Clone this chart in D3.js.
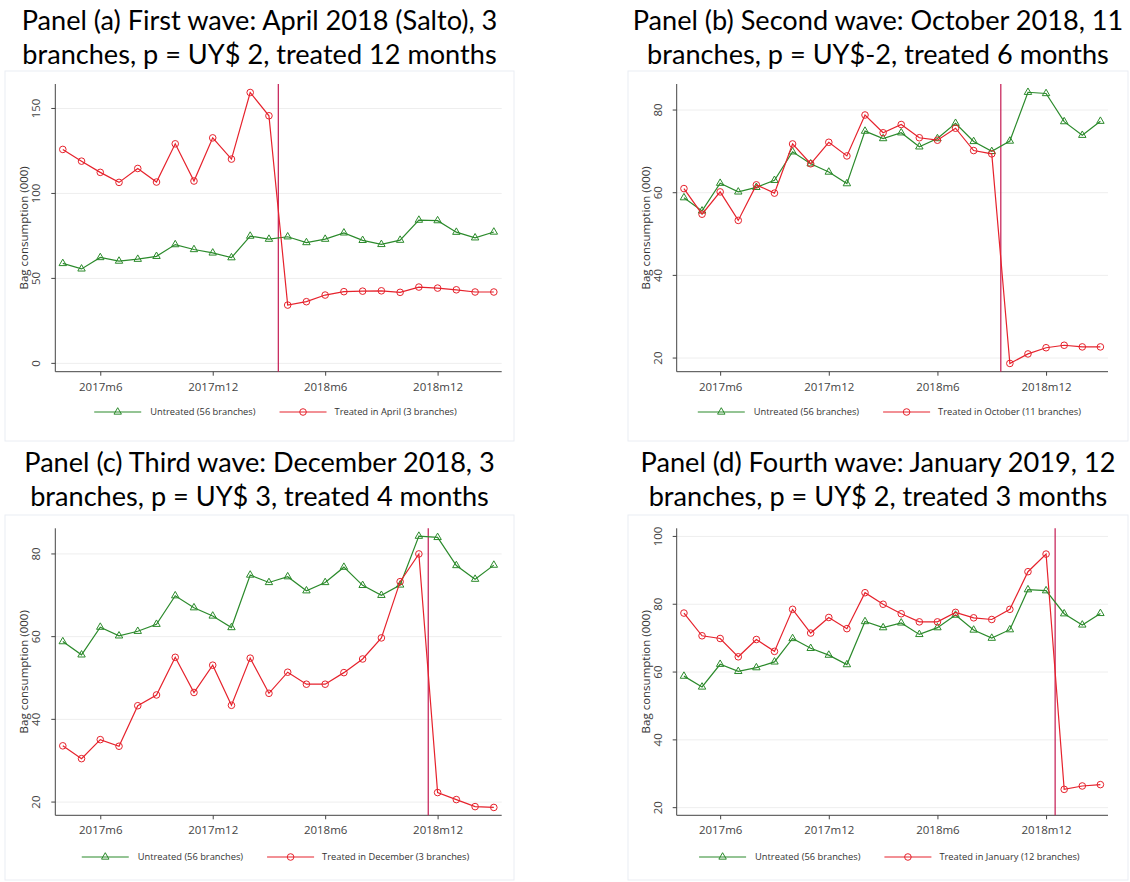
<!DOCTYPE html>
<html>
<head>
  <meta charset="utf-8">
  <title>bag consumption</title>
  <script type="text/javascript" src="https://cdn.jsdelivr.net/npm/d3@7"></script>
  <style>
    body { margin: 0; background: #fff; }
    text { font-family: "Open Sans", "DejaVu Sans", sans-serif; }
    .title { font-family: Lato, "Open Sans", sans-serif; fill: #000; }
  </style>
</head>
<body>
<script type="text/javascript">

// months 2017m4 .. 2019m3
const months = ["2017m4","2017m5","2017m6","2017m7","2017m8","2017m9","2017m10","2017m11",
  "2017m12","2018m1","2018m2","2018m3","2018m4","2018m5","2018m6","2018m7","2018m8",
  "2018m9","2018m10","2018m11","2018m12","2019m1","2019m2","2019m3"];
const tickLabels = ["2017m6","2017m12","2018m6","2018m12"];

// untreated branches (same in all panels)
const untreated = [58.8,55.6,62.3,60.2,61.3,63.0,69.9,67.0,65.0,62.2,74.9,73.1,
  74.5,71.1,73.1,76.8,72.4,70.0,72.5,84.3,84.0,77.2,73.9,77.3];

const treatedApril = [125.9,119.0,112.4,106.5,114.7,106.7,129.2,107.3,132.7,120.2,159.4,145.7,
  34.3,36.3,40.2,42.2,42.5,42.7,41.8,44.9,44.3,43.3,42.0,42.0];
const treatedOctober = [61.0,54.8,60.2,53.3,61.9,59.9,71.8,67.0,72.2,68.9,78.8,74.5,
  76.5,73.3,72.7,75.6,70.2,69.4,18.7,21.0,22.5,23.1,22.7,22.7];
const treatedDecember = [33.6,30.5,35.1,33.5,43.3,45.9,55.0,46.5,53.1,43.4,54.8,46.3,
  51.4,48.5,48.5,51.3,54.6,59.7,73.3,80.0,22.3,20.6,18.9,18.7];
const treatedJanuary = [77.4,70.7,69.9,64.5,69.6,66.1,78.5,71.5,76.1,72.8,83.4,80.0,
  77.2,74.8,74.8,77.6,76.0,75.5,78.5,89.6,94.8,25.4,26.4,26.8];

const untreatedLabel = "Untreated (56 branches)";

const panels = [
  { title: ["Panel (a) First wave: April 2018 (Salto), 3", "branches, p = UY$ 2, treated 12 months"],
    treated: treatedApril, label: "Treated in April (3 branches)", start: "2018m4",
    yTicks: [0, 50, 100, 150], yDomain: [-4.9, 164.4], col: 0, row: 0 },
  { title: ["Panel (b) Second wave: October 2018, 11", "branches, p = UY$-2, treated 6 months"],
    treated: treatedOctober, label: "Treated in October (11 branches)", start: "2018m10",
    yTicks: [20, 40, 60, 80], yDomain: [16.7, 86.3], col: 1, row: 0 },
  { title: ["Panel (c) Third wave: December 2018, 3", "branches, p = UY$ 3, treated 4 months"],
    treated: treatedDecember, label: "Treated in December (3 branches)", start: "2018m12",
    yTicks: [20, 40, 60, 80], yDomain: [16.8, 86.2], col: 0, row: 1 },
  { title: ["Panel (d) Fourth wave: January 2019, 12", "branches, p = UY$ 2, treated 3 months"],
    treated: treatedJanuary, label: "Treated in January (12 branches)", start: "2019m1",
    yTicks: [20, 40, 60, 80, 100], yDomain: [17.75, 102.4], col: 1, row: 1 }
];

const cols = [
  { frame: [5, 514], plot: [55.3, 501.7] },
  { frame: [628, 1128], plot: [676.7, 1108] }
];
const rows = [
  { frame: [71, 441], plot: [84, 371.7], title: [30, 64], legend: 412 },
  { frame: [515, 880], plot: [528.3, 815.3], title: [472, 506], legend: 857 }
];

const green = "#2b8a2b", red = "#e6222c", vline = "#c41a52";

const svg = d3.select("body").append("svg")
  .attr("width", 1130)
  .attr("height", 882);

// fit title font size to the width of the first title line
const probe = svg.append("text").attr("class", "title").attr("font-size", 100).text(panels[0].title[0]);
const titleSize = 100 * 476 / probe.node().getComputedTextLength();
probe.remove();

panels.forEach(function(p) {
  const c = cols[p.col], r = rows[p.row];
  const g = svg.append("g");

  // panel frame
  g.append("rect")
    .attr("x", c.frame[0]).attr("y", r.frame[0])
    .attr("width", c.frame[1] - c.frame[0]).attr("height", r.frame[1] - r.frame[0])
    .attr("fill", "#fff").attr("stroke", "#eaedf3");

  // title
  const cx = (c.frame[0] + c.frame[1]) / 2;
  p.title.forEach(function(t, i) {
    g.append("text").attr("class", "title")
      .attr("x", cx).attr("y", r.title[i])
      .attr("text-anchor", "middle")
      .attr("font-size", titleSize)
      .text(t);
  });

  const x = d3.scaleLinear().domain([-0.4, 23.42]).range(c.plot);
  const y = d3.scaleLinear().domain(p.yDomain).range([r.plot[1], r.plot[0]]);

  // grid
  g.selectAll(".grid").data(p.yTicks).enter().append("line")
    .attr("x1", c.plot[0]).attr("x2", c.plot[1])
    .attr("y1", d => y(d)).attr("y2", d => y(d))
    .attr("stroke", "#eeeeee").attr("stroke-width", 1);

  // axes
  const yAxis = g.append("g")
    .attr("transform", "translate(" + c.plot[0] + ",0)")
    .call(d3.axisLeft(y).tickValues(p.yTicks).tickSize(4));
  yAxis.selectAll(".tick").attr("transform", null);
  yAxis.selectAll(".tick line").attr("y1", d => y(d)).attr("y2", d => y(d));
  yAxis.selectAll(".tick text")
    .attr("x", -19).attr("y", d => y(d)).attr("dy", "0.35em")
    .attr("text-anchor", "middle")
    .attr("transform", d => "rotate(-90," + (-19) + "," + y(d) + ")");

  const xAxis = g.append("g")
    .attr("transform", "translate(0," + r.plot[1] + ")")
    .call(d3.axisBottom(x).tickValues(tickLabels.map(t => months.indexOf(t)))
      .tickFormat(i => months[i]).tickSize(4).tickPadding(7));

  [yAxis, xAxis].forEach(function(a) {
    a.select(".domain").remove();
    a.selectAll("line").attr("stroke", "#444");
    a.selectAll("text").attr("font-size", 11.5).attr("fill", "#444")
      .attr("font-family", "'Open Sans', sans-serif");
  });
  g.append("line").attr("x1", c.plot[0]).attr("x2", c.plot[0])
    .attr("y1", r.plot[0]).attr("y2", r.plot[1]).attr("stroke", "#444");
  g.append("line").attr("x1", c.plot[0]).attr("x2", c.plot[1])
    .attr("y1", r.plot[1]).attr("y2", r.plot[1]).attr("stroke", "#444");

  // y axis title
  g.append("text")
    .attr("transform", "translate(" + (c.plot[0] - 31) + "," + ((r.plot[0] + r.plot[1]) / 2) + ") rotate(-90)")
    .attr("text-anchor", "middle").attr("dy", "0.35em")
    .attr("font-size", 11.5).attr("fill", "#333")
    .text("Bag consumption (000)");

  // treatment line
  const xv = x(months.indexOf(p.start) - 0.5);
  g.append("line").attr("x1", xv).attr("x2", xv)
    .attr("y1", r.plot[0]).attr("y2", r.plot[1])
    .attr("stroke", vline).attr("stroke-width", 1.2);

  const line = d3.line().x((d, i) => x(i)).y(d => y(d));
  const tri = d3.symbol(d3.symbolTriangle, 24);

  // untreated
  g.append("path").datum(untreated).attr("d", line)
    .attr("fill", "none").attr("stroke", green).attr("stroke-width", 1.2);
  g.selectAll(".tri").data(untreated).enter().append("path")
    .attr("transform", (d, i) => "translate(" + x(i) + "," + y(d) + ")")
    .attr("d", tri).attr("fill", "none").attr("stroke", green).attr("stroke-width", 1);

  // treated
  g.append("path").datum(p.treated).attr("d", line)
    .attr("fill", "none").attr("stroke", red).attr("stroke-width", 1.2);
  g.selectAll(".circ").data(p.treated).enter().append("circle")
    .attr("cx", (d, i) => x(i)).attr("cy", d => y(d)).attr("r", 3.3)
    .attr("fill", "none").attr("stroke", red).attr("stroke-width", 1);

  // legend
  const lg = g.append("g");
  const t1 = lg.append("text").attr("font-size", 9.3).attr("fill", "#333")
    .attr("dy", "0.35em").text(untreatedLabel);
  const t2 = lg.append("text").attr("font-size", 9.3).attr("fill", "#333")
    .attr("dy", "0.35em").text(p.label);
  const w1 = t1.node().getComputedTextLength(), w2 = t2.node().getComputedTextLength();
  const total = 47 + 9 + w1 + 24 + 47 + 8 + w2;
  let lx = (c.plot[0] + c.plot[1]) / 2 - total / 2 - 3;
  const ly = r.legend;
  lg.append("line").attr("x1", lx).attr("x2", lx + 47).attr("y1", ly).attr("y2", ly)
    .attr("stroke", green).attr("stroke-width", 1.2);
  lg.append("path").attr("transform", "translate(" + (lx + 23.5) + "," + ly + ")")
    .attr("d", tri).attr("fill", "none").attr("stroke", green);
  t1.attr("x", lx + 56).attr("y", ly);
  lx = lx + 56 + w1 + 24;
  lg.append("line").attr("x1", lx).attr("x2", lx + 47).attr("y1", ly).attr("y2", ly)
    .attr("stroke", red).attr("stroke-width", 1.2);
  lg.append("circle").attr("cx", lx + 23.5).attr("cy", ly).attr("r", 3.3)
    .attr("fill", "none").attr("stroke", red);
  t2.attr("x", lx + 55).attr("y", ly);
});
</script>
</body>
</html>
